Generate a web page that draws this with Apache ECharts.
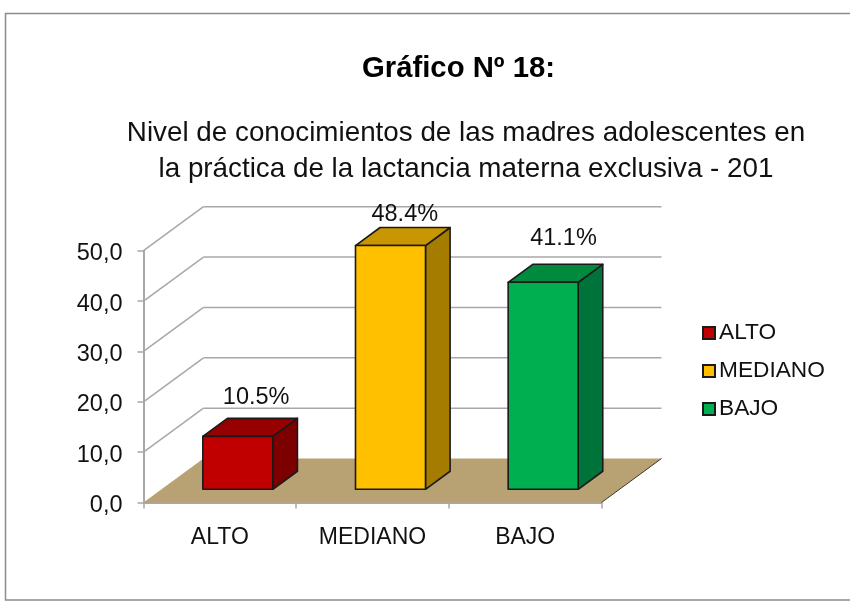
<!DOCTYPE html>
<html>
<head>
<meta charset="utf-8">
<style>
  html, body { margin: 0; padding: 0; background: #fff; }
  #chart { width: 850px; height: 601px; }
</style>
<script src="https://cdn.jsdelivr.net/npm/echarts@6/dist/echarts.min.js"></script>
</head>
<body>
<div id="chart"></div>
<script>
const categories = ['ALTO', 'MEDIANO', 'BAJO'];
const values = [10.5, 48.4, 41.1];
const yTicks = [0, 10, 20, 30, 40, 50];

const faceColors = ['#c00000', '#ffc000', '#00b050'];
const topColors = ['#960000', '#c79600', '#008a3e'];
const sideColors = ['#7c0000', '#a67c00', '#00733a'];

// profundidad del piso y de las barras, en pixeles
const floorDepth = [60, -44];
const barFront = 0.3;
const barBack = 0.71;
const barWidth = 70;
const labelGap = [21, 13, 26];
const labelShift = [6, 2, 8];

const font = '"Liberation Sans", Arial, sans-serif';
const chart = echarts.init(document.getElementById('chart'));

function poly(points, fill, stroke, z2) {
  return {
    type: 'polygon',
    z2: z2,
    shape: { points: points },
    style: { fill: fill, stroke: stroke, lineWidth: 1.6, lineJoin: 'round' }
  };
}

function line(a, b, z2) {
  return {
    type: 'line',
    z2: z2 || 0,
    shape: { x1: a[0], y1: a[1], x2: b[0], y2: b[1] },
    style: { stroke: '#a8a8a8', lineWidth: 1.5 }
  };
}

// paredes y piso
function renderWalls(params, api) {
  const children = [];
  const left = api.coord([0, 0])[0] - api.size([1, 0])[0] / 2;
  const right = left + api.size([1, 0])[0] * categories.length;
  yTicks.forEach(function (t) {
    const y = api.coord([0, t])[1];
    if (t > 0) {
      children.push(line([left, y], [left + floorDepth[0], y + floorDepth[1]]));
      children.push(line([left + floorDepth[0], y + floorDepth[1]], [right + floorDepth[0], y + floorDepth[1]]));
    }
  });
  const y0 = api.coord([0, 0])[1];
  children.push(poly([
    [left, y0],
    [left + floorDepth[0], y0 + floorDepth[1]],
    [right + floorDepth[0], y0 + floorDepth[1]],
    [right, y0]
  ], '#b8a173', 'none', 1));
  children.push(line([right, y0], [right + floorDepth[0], y0 + floorDepth[1]], 2));
  children[children.length - 1].style.stroke = '#3a3a2a';
  children[children.length - 1].style.lineWidth = 1;
  return { type: 'group', children: children };
}

function renderBar(params, api) {
  const i = api.value(0);
  const val = api.value(1);
  const center = api.coord([i, 0])[0];
  const y0 = api.coord([i, 0])[1];
  const yTop = api.coord([i, val])[1];
  const fx = center + floorDepth[0] * barFront - barWidth / 2;
  const fw = barWidth;
  const fb = y0 + floorDepth[1] * barFront;
  const ft = yTop + floorDepth[1] * barFront;
  const dx = floorDepth[0] * (barBack - barFront);
  const dy = floorDepth[1] * (barBack - barFront);
  return {
    type: 'group',
    children: [
      poly([[fx + fw, fb], [fx + fw + dx, fb + dy], [fx + fw + dx, ft + dy], [fx + fw, ft]], sideColors[i], '#1a1a1a', 3),
      poly([[fx, ft], [fx + dx, ft + dy], [fx + fw + dx, ft + dy], [fx + fw, ft]], topColors[i], '#1a1a1a', 3),
      poly([[fx, fb], [fx, ft], [fx + fw, ft], [fx + fw, fb]], faceColors[i], '#1a1a1a', 4),
      {
        type: 'text',
        z2: 5,
        style: {
          x: fx + (fw + dx) / 2 + labelShift[i],
          y: ft + dy - labelGap[i],
          text: val.toFixed(1) + '%',
          font: '23.5px ' + font,
          fill: '#111',
          align: 'center',
          verticalAlign: 'middle'
        }
      }
    ]
  };
}

const barSeries = categories.map(function (name, i) {
  return {
    type: 'custom',
    name: name,
    z: 3,
    clip: false,
    renderItem: renderBar,
    encode: { x: 0, y: 1 },
    itemStyle: { color: faceColors[i], borderColor: '#1a1a1a', borderWidth: 2 },
    data: [[i, values[i]]]
  };
});

chart.setOption({
  animation: false,
  backgroundColor: '#fff',
  title: [
    {
      text: 'Gráfico Nº 18:',
      left: 453.5, top: 49, textAlign: 'center',
      textStyle: { fontFamily: font, fontSize: 29.3, fontWeight: 'bold', color: '#000' }
    },
    {
      text: 'Nivel de conocimientos de las madres adolescentes en\nla práctica de la lactancia materna exclusiva - 201',
      left: 461, top: 110, textAlign: 'center',
      textStyle: { fontFamily: font, fontSize: 27.8, fontWeight: 'normal', color: '#111', lineHeight: 36 }
    }
  ],
  graphic: [{
    type: 'polyline',
    silent: true,
    shape: { points: [[850, 600], [5.5, 600], [5.5, 13.5], [850, 13.5]] },
    style: { fill: 'none', stroke: '#8c8c8c', lineWidth: 1.5 }
  }],
  legend: {
    orient: 'vertical',
    left: 697,
    top: 316.5,
    itemWidth: 12,
    itemHeight: 12,
    itemGap: 15,
    icon: 'rect',
    data: categories,
    textStyle: { fontFamily: font, fontSize: 22.7, color: '#111', padding: [0, 0, 0, -1] }
  },
  grid: { left: 143.5, right: 248.5, top: 250.7, bottom: 98.5 },
  xAxis: {
    type: 'category',
    data: categories,
    axisLine: { lineStyle: { color: '#a8a8a8', width: 2 } },
    axisTick: { show: true, alignWithLabel: false, length: 6, lineStyle: { color: '#a8a8a8', width: 1.5 } },
    axisLabel: { fontFamily: font, fontSize: 23, color: '#111', margin: 24 }
  },
  yAxis: {
    type: 'value',
    min: 0,
    max: 50,
    interval: 10,
    splitLine: { show: false },
    axisLine: { show: true, lineStyle: { color: '#a8a8a8', width: 2 } },
    axisTick: { show: true, length: 6, lineStyle: { color: '#a8a8a8', width: 1.5 } },
    axisLabel: {
      margin: 21,
      formatter: function (v) { return '{n|' + v.toFixed(1).replace('.', ',') + '}'; },
      rich: { n: { fontFamily: font, fontSize: 23.5, color: '#111', padding: [6, 0, 0, 0] } }
    }
  },
  series: [
    {
      type: 'custom',
      z: 1,
      silent: true,
      clip: false,
      legendHoverLink: false,
      renderItem: renderWalls,
      encode: { x: 0, y: 1 },
      data: [[0, 0]]
    }
  ].concat(barSeries)
});
</script>
</body>
</html>
